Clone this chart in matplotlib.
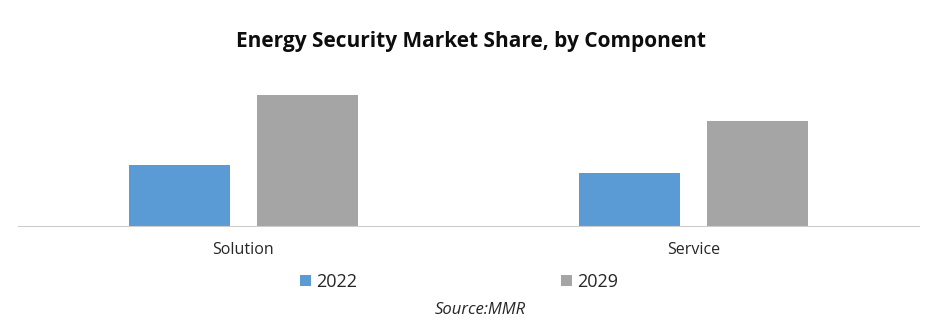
import matplotlib
matplotlib.use("Agg")
import matplotlib.pyplot as plt
import numpy as np

categories = ['Solution', 'Service']
series_names = ['2022', '2029']
values_2022 = [60.5, 52.5]
values_2029 = [130.5, 104.5]

colors = ['#5B9BD5', '#A5A5A5']
plt.rcParams['font.family'] = ['Open Sans', 'DejaVu Sans']

fig = plt.figure(figsize=(9.41, 3.27), dpi=100)
# axes placed in figure pixels: x 18..919, baseline at y=225.5, top at 85.5
ax = fig.add_axes([18 / 941, (327 - 225.5) / 327, 901 / 941, 140 / 327])

x = np.arange(len(categories))
width = 0.224
off = 0.142
ax.bar(x - off, values_2022, width, color=colors[0], label=series_names[0])
ax.bar(x + off, values_2029, width, color=colors[1], label=series_names[1])

ax.set_xlim(-0.5, 1.5)
ax.set_ylim(0, 140)
ax.set_yticks([])
ax.set_xticks(x)
ax.set_xticklabels(categories, fontsize=11.5, color='#262626')
ax.tick_params(axis='x', length=0, pad=12)
for s in ['top', 'right', 'left']:
    ax.spines[s].set_visible(False)
ax.spines['bottom'].set_color('#CCCCCC')
ax.spines['bottom'].set_linestyle((0, (1, 1)))
ax.spines['bottom'].set_linewidth(0.8)

fig.text(0.5, 1 - 42 / 327, 'Energy Security Market Share, by Component',
         ha='center', va='center', fontsize=15, fontweight='bold',
         color='#0D0D0D')

fig.legend(loc='center', bbox_to_anchor=(459 / 941, 1 - 282 / 327), ncol=2,
           frameon=False, fontsize=13, handlelength=0.6, handleheight=0.6,
           handletextpad=0.3, columnspacing=11.3, labelcolor='#262626')

fig.text(480 / 941, 1 - 310 / 327, 'Source:MMR', ha='center', va='center',
         fontsize=12, style='italic', color='#262626')

fig.savefig('out.png', dpi=100)
